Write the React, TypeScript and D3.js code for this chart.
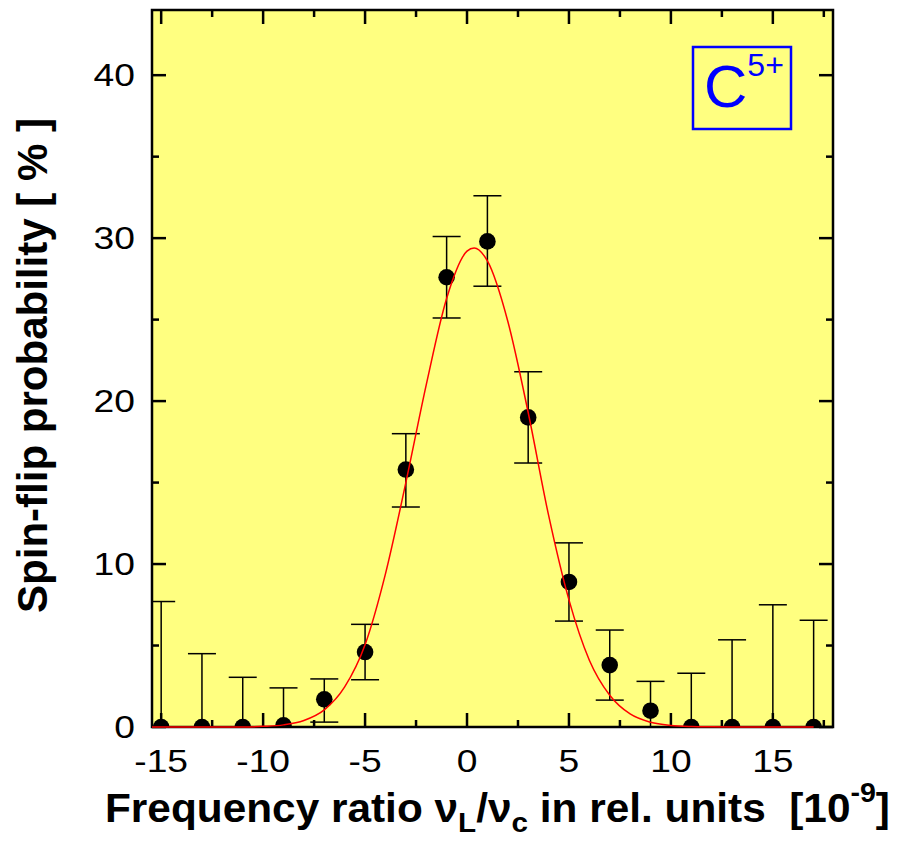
import React from 'react';
import * as d3 from 'd3';

// measured points: detuning (1e-9) vs spin-flip probability (%)
const detuning = [-15, -13, -11, -9, -7, -5, -3, -1, 1, 3, 5, 7, 9, 11, 13, 15, 17];
const probability = [0, 0, 0, 0.1, 1.7, 4.6, 15.8, 27.6, 29.8, 19.0, 8.9, 3.8, 1.0, 0, 0, 0, 0];
const errTop = [7.7, 4.5, 3.05, 2.4, 2.95, 6.3, 18.0, 30.1, 32.6, 21.8, 11.3, 5.95, 2.8, 3.3, 5.35, 7.5, 6.55];
const errBottom = [0, 0, 0, 0, 0.3, 2.9, 13.5, 25.1, 27.05, 16.2, 6.5, 1.65, 0, 0, 0, 0, 0];

// fitted line shape
const fitX = [-15.45, -14, -13, -12, -11, -10, -9, -8, -7, -6, -5, -4, -3, -2, -1, 0, 0.35, 1, 2, 3, 4, 5, 6, 7, 8, 9, 10, 11, 12, 13, 14, 15, 16, 17];
const fitY = [0, 0, 0, 0, 0.005, 0.04, 0.13, 0.4, 1.05, 2.46, 5.05, 9.4, 15.0, 21.0, 26.3, 29.2, 29.4, 28.6, 24.9, 19.3, 13.0, 7.8, 4.1, 1.95, 0.8, 0.29, 0.095, 0.03, 0.01, 0, 0, 0, 0, 0];

const xMajor = [-15, -10, -5, 0, 5, 10, 15];
const xMinor = [-12.5, -7.5, -2.5, 2.5, 7.5, 12.5, 17.5];
const yMajor = [0, 10, 20, 30, 40];
const yMinor = [5, 15, 25, 35];

const W = 898;
const H = 841;
const left = 152, right = 833, top = 10, bottom = 727;

export default function App() {
  const x = d3.scaleLinear().domain([-15.45, 17.95]).range([left, right]);
  const y = d3.scaleLinear().domain([0, 44]).range([bottom, top]);

  const fitLine = d3
    .line<number>()
    .x((d, i) => x(fitX[i]))
    .y((d) => y(d))
    .curve(d3.curveMonotoneX);

  const font = 'Liberation Sans, Arial, sans-serif';
  const majorLen = 14, minorLen = 7;

  return (
    <svg
      width={W}
      height={H}
      style={{ position: 'absolute', left: 0, top: 0, background: '#fff' }}
    >
      <defs>
        <clipPath id="plotClip">
          <rect x={left} y={top} width={right - left} height={bottom - top} />
        </clipPath>
        <clipPath id="lineClip">
          <rect x={left} y={top} width={right - left} height={bottom - top + 2} />
        </clipPath>
      </defs>

      <rect x={left} y={top} width={right - left} height={bottom - top} fill="#ffff80" />

      {/* error bars */}
      <g stroke="#000" strokeWidth={1.5} clipPath="url(#plotClip)">
        {detuning.map((d, i) => (
          <g key={i}>
            <line x1={x(d)} x2={x(d)} y1={y(errBottom[i])} y2={y(errTop[i])} />
            <line x1={x(d) - 14} x2={x(d) + 14} y1={y(errTop[i])} y2={y(errTop[i])} />
            {errBottom[i] > 0 && (
              <line x1={x(d) - 14} x2={x(d) + 14} y1={y(errBottom[i])} y2={y(errBottom[i])} />
            )}
          </g>
        ))}
      </g>

      {/* points */}
      <g clipPath="url(#plotClip)">
        {detuning.map((d, i) => (
          <circle key={i} cx={x(d)} cy={y(probability[i])} r={8.3} fill="#000" />
        ))}
      </g>

      {/* frame and ticks */}
      <g stroke="#000" strokeWidth={2.5} fill="none">
        <rect x={left} y={top} width={right - left} height={bottom - top} />
        {xMajor.map((v) => (
          <g key={'xM' + v}>
            <line x1={x(v)} x2={x(v)} y1={bottom} y2={bottom - majorLen} />
            <line x1={x(v)} x2={x(v)} y1={top} y2={top + majorLen} />
          </g>
        ))}
        {xMinor.map((v) => (
          <g key={'xm' + v}>
            <line x1={x(v)} x2={x(v)} y1={bottom} y2={bottom - minorLen} />
            <line x1={x(v)} x2={x(v)} y1={top} y2={top + minorLen} />
          </g>
        ))}
        {yMajor.map((v) => (
          <g key={'yM' + v}>
            <line x1={left} x2={left + majorLen} y1={y(v)} y2={y(v)} />
            <line x1={right} x2={right - majorLen} y1={y(v)} y2={y(v)} />
          </g>
        ))}
        {yMinor.map((v) => (
          <g key={'ym' + v}>
            <line x1={left} x2={left + minorLen} y1={y(v)} y2={y(v)} />
            <line x1={right} x2={right - minorLen} y1={y(v)} y2={y(v)} />
          </g>
        ))}
      </g>

      {/* fit curve */}
      <path
        d={fitLine(fitY) || ''}
        fill="none"
        stroke="#ff0000"
        strokeWidth={1.5}
        clipPath="url(#lineClip)"
      />

      {/* tick labels */}
      <g fontFamily={font} fontSize={31} fill="#000">
        {xMajor.map((v) => (
          <g key={'xl' + v} transform={`translate(${x(v)},772) scale(1.2,1)`}>
            <text textAnchor="middle">{v}</text>
          </g>
        ))}
        {yMajor.map((v) => (
          <g key={'yl' + v} transform={`translate(135,${y(v) + 11}) scale(1.2,1)`}>
            <text textAnchor="end">{v}</text>
          </g>
        ))}
      </g>

      {/* axis titles */}
      <text
        x={105}
        y={822}
        fontFamily={font}
        fontWeight="bold"
        fontSize={40}
        textLength={785}
        lengthAdjust="spacingAndGlyphs"
      >
        Frequency ratio ν
        <tspan fontSize={28} dy={10}>L</tspan>
        <tspan dy={-10}>/ν</tspan>
        <tspan fontSize={28} dy={10}>c</tspan>
        <tspan dy={-10}>{' in rel. units\u00A0\u00A0[10'}</tspan>
        <tspan fontSize={27} dy={-20}>-9</tspan>
        <tspan dy={20}>]</tspan>
      </text>
      <text
        transform={`translate(47,${(118 + 613) / 2}) rotate(-90)`}
        textAnchor="middle"
        fontFamily={font}
        fontWeight="bold"
        fontSize={42}
        textLength={495}
        lengthAdjust="spacingAndGlyphs"
      >
        Spin-flip probability [ % ]
      </text>

      {/* ion label */}
      <rect x={693} y={47} width={98} height={82} fill="none" stroke="#0000ff" strokeWidth={2.5} />
      <text x={704} y={107} fontFamily={font} fontSize={60} fill="#0000ff">
        C<tspan fontSize={32} dy={-31}>5+</tspan>
      </text>
    </svg>
  );
}
